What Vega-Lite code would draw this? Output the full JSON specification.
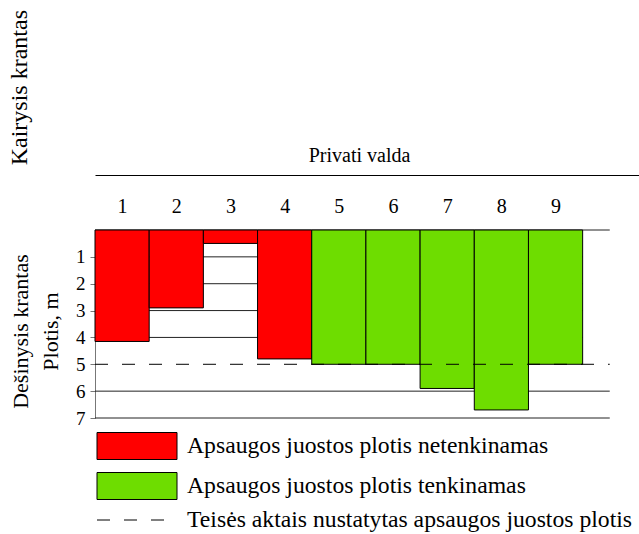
{
  "$schema": "https://vega.github.io/schema/vega-lite/v6.json",
  "autosize": {"type": "none"},
  "width": 544,
  "height": 188,
  "padding": {"left": 95, "top": 230, "right": 0, "bottom": 116},
  "background": "white",
  "config": {
    "view": {"stroke": null},
    "font": "Liberation Serif",
    "axis": {"labelOverlap": false}
  },
  "title": {
    "text": "Kairysis krantas",
    "orient": "left",
    "anchor": "end",
    "frame": "group",
    "font": "Liberation Serif",
    "fontSize": 24,
    "fontWeight": "normal",
    "color": "black",
    "offset": -20,
    "dx": 220,
    "dy": 3
  },
  "datasets": {
    "parcels": [
      {"n": 1, "depth": 4.15, "status": "Apsaugos juostos plotis netenkinamas"},
      {"n": 2, "depth": 2.9, "status": "Apsaugos juostos plotis netenkinamas"},
      {"n": 3, "depth": 0.5, "status": "Apsaugos juostos plotis netenkinamas"},
      {"n": 4, "depth": 4.8, "status": "Apsaugos juostos plotis netenkinamas"},
      {"n": 5, "depth": 5.0, "status": "Apsaugos juostos plotis tenkinamas"},
      {"n": 6, "depth": 5.0, "status": "Apsaugos juostos plotis tenkinamas"},
      {"n": 7, "depth": 5.9, "status": "Apsaugos juostos plotis tenkinamas"},
      {"n": 8, "depth": 6.7, "status": "Apsaugos juostos plotis tenkinamas"},
      {"n": 9, "depth": 5.0, "status": "Apsaugos juostos plotis tenkinamas"}
    ],
    "gridFull": [{"depth": 0}, {"depth": 6}, {"depth": 7}],
    "gridShort": [{"depth": 1}, {"depth": 2}, {"depth": 3}, {"depth": 4}],
    "legal": [{"depth": 5, "label": "Teisės aktais nustatytas apsaugos juostos plotis"}]
  },
  "layer": [
    {
      "data": {"name": "gridFull"},
      "mark": {"type": "rule", "color": "#222", "strokeWidth": 1},
      "encoding": {
        "x": {"datum": 0.5, "type": "quantitative"},
        "x2": {"datum": 10},
        "y": {
          "field": "depth",
          "type": "quantitative",
          "axis": {"values": [1, 2, 3, 4, 5, 6, 7], "labelOverlap": false, "title": ["Dešinysis krantas", "Plotis, m"]}
        }
      }
    },
    {
      "data": {"name": "gridShort"},
      "mark": {"type": "rule", "color": "#222", "strokeWidth": 1},
      "encoding": {
        "x": {"datum": 0.5, "type": "quantitative"},
        "x2": {"datum": 9.5},
        "y": {
          "field": "depth",
          "type": "quantitative",
          "axis": {"values": [1, 2, 3, 4, 5, 6, 7], "labelOverlap": false, "title": ["Dešinysis krantas", "Plotis, m"]}
        }
      }
    },
    {
      "data": {"name": "parcels"},
      "mark": {"type": "bar", "orient": "vertical", "width": 54.18, "stroke": "black", "strokeWidth": 1},
      "encoding": {
        "x": {
          "field": "n",
          "type": "quantitative",
          "scale": {"domain": [0.5, 10.54], "nice": false, "zero": false, "padding": 0},
          "axis": {
            "orient": "top",
            "values": [1, 2, 3, 4, 5, 6, 7, 8, 9],
            "format": "d",
            "grid": false,
            "ticks": false,
            "tickSize": 0,
            "domain": true,
            "domainColor": "black",
            "domainWidth": 1,
            "offset": 55,
            "labelPadding": -37,
            "labelBaseline": "alphabetic",
            "labelFont": "Liberation Serif",
            "labelFontSize": 20,
            "labelColor": "black",
            "labelFlush": false,
            "labelOverlap": false,
            "title": "Privati valda",
            "titleFont": "Liberation Serif",
            "titleFontSize": 20,
            "titleFontWeight": "normal",
            "titleColor": "black",
            "titleX": 264,
            "titleY": -14,
            "titleAlign": "center",
            "titleBaseline": "alphabetic"
          }
        },
        "y": {
          "field": "depth",
          "type": "quantitative",
          "scale": {"domain": [0, 7], "reverse": true, "nice": false, "padding": 0},
          "axis": {
            "orient": "left",
            "values": [1, 2, 3, 4, 5, 6, 7],
            "grid": false,
            "domainColor": "#777",
            "tickColor": "#777",
            "tickSize": 5,
            "labelPadding": 5,
            "labelFont": "Liberation Serif",
            "labelFontSize": 19,
            "labelColor": "black",
            "labelFlush": false,
            "labelOverlap": false,
            "title": ["Dešinysis krantas", "Plotis, m"],
            "titleFont": "Liberation Serif",
            "titleFontSize": 22,
            "titleFontWeight": "normal",
            "titleColor": "black",
            "titleX": -68,
            "titleY": 101,
            "titleAngle": 270,
            "titleAlign": "center",
            "titleBaseline": "alphabetic",
            "titleLineHeight": 30
          }
        },
        "color": {
          "field": "status",
          "type": "nominal",
          "scale": {
            "domain": ["Apsaugos juostos plotis netenkinamas", "Apsaugos juostos plotis tenkinamas"],
            "range": ["#ff0000", "#6edd00"]
          },
          "legend": {
            "title": null,
            "orient": "none",
            "legendX": 28,
            "legendY": 202,
            "direction": "vertical",
            "padding": 0,
            "symbolType": "M-2.963,-1H2.963V1H-2.963Z",
            "symbolSize": 729,
            "symbolStrokeColor": "black",
            "symbolStrokeWidth": 1,
            "symbolOpacity": 1,
            "labelFont": "Liberation Serif",
            "labelFontSize": 23.7,
            "labelColor": "black",
            "labelOffset": 36,
            "labelLimit": 600,
            "rowPadding": 8
          }
        }
      }
    },
    {
      "data": {"name": "legal"},
      "mark": {"type": "rule", "color": "black", "strokeWidth": 1},
      "encoding": {
        "x": {"datum": 0.5, "type": "quantitative"},
        "x2": {"datum": 10},
        "y": {
          "field": "depth",
          "type": "quantitative",
          "axis": {"values": [1, 2, 3, 4, 5, 6, 7], "labelOverlap": false, "title": ["Dešinysis krantas", "Plotis, m"]}
        },
        "strokeDash": {
          "field": "label",
          "type": "nominal",
          "scale": {"range": [[13, 14]]},
          "legend": {
            "title": null,
            "orient": "none",
            "legendX": 28,
            "legendY": 276,
            "padding": 0,
            "symbolType": "M-2.963,0H2.963",
            "symbolSize": 729,
            "symbolStrokeColor": "black",
            "symbolStrokeWidth": 1,
            "labelFont": "Liberation Serif",
            "labelFontSize": 23.7,
            "labelColor": "black",
            "labelOffset": 36,
            "labelLimit": 600
          }
        }
      }
    }
  ]
}
